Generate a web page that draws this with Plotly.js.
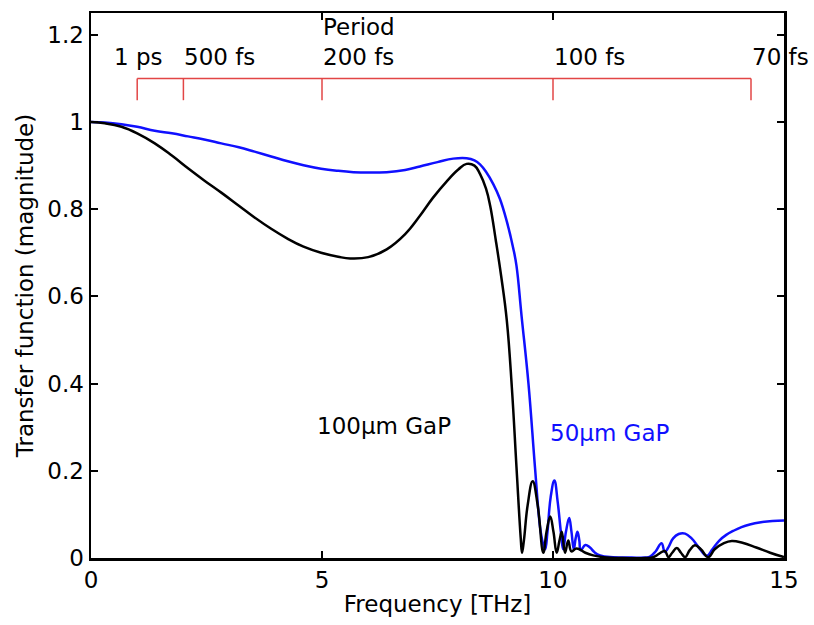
<!DOCTYPE html>
<html>
<head>
<meta charset="utf-8">
<script src="https://cdn.plot.ly/plotly-3.0.1.min.js"></script>
<style>html,body{margin:0;padding:0;background:#fff;}#chart{width:814px;height:625px;}</style>
</head>
<body>
<div id="chart"></div>
<script>
// 100 µm GaP (black)
const freq100 = [0,0.3,0.66,1.0,1.38,1.75,2.1,2.45,2.82,3.2,3.54,3.9,4.26,4.6,4.98,5.35,5.61,6.0,6.4,6.8,7.12,7.4,7.7,7.95,8.13,8.3,8.42,8.55,8.64,8.76,8.88,9.0,9.11,9.21,9.30,9.33,9.37,9.45,9.56,9.67,9.79,9.86,9.94,10.01,10.08,10.14,10.19,10.26,10.33,10.40,10.51,10.7,10.87,11.1,11.5,12.0,12.17,12.30,12.42,12.5,12.58,12.68,12.77,12.86,12.96,13.07,13.2,13.36,13.5,13.7,13.87,14.1,14.4,14.7,15.0];
const mag100 = [1.0,0.997,0.989,0.974,0.951,0.923,0.894,0.866,0.838,0.808,0.781,0.755,0.732,0.714,0.700,0.691,0.687,0.690,0.708,0.743,0.785,0.826,0.864,0.891,0.904,0.900,0.881,0.847,0.808,0.730,0.645,0.545,0.39,0.208,0.048,0.012,0.04,0.12,0.176,0.12,0.012,0.06,0.095,0.06,0.012,0.04,0.06,0.012,0.04,0.015,0.022,0.012,0.006,0.002,0,0,0.002,0.01,0.016,0.002,0.012,0.023,0.012,0.002,0.018,0.029,0.02,0.002,0.02,0.034,0.039,0.035,0.024,0.012,0.002];

// 50 µm GaP (blue)
const freq50 = [0,0.3,0.66,1.0,1.38,1.75,2.1,2.45,2.82,3.2,3.54,3.9,4.26,4.6,4.98,5.35,5.68,6.0,6.4,6.8,7.12,7.5,7.84,8.13,8.3,8.42,8.55,8.71,8.85,9.0,9.14,9.21,9.32,9.47,9.61,9.72,9.78,9.83,9.88,9.95,10.03,10.10,10.17,10.22,10.28,10.35,10.40,10.45,10.49,10.53,10.57,10.60,10.70,10.80,10.9,11.02,11.3,11.7,12.0,12.10,12.22,12.35,12.42,12.50,12.6,12.72,12.86,13.0,13.15,13.33,13.45,13.6,13.75,13.9,14.08,14.26,14.5,14.75,15.0];
const mag50 = [1.0,0.999,0.995,0.989,0.98,0.974,0.967,0.96,0.951,0.942,0.932,0.921,0.910,0.901,0.893,0.888,0.885,0.884,0.885,0.890,0.898,0.908,0.916,0.917,0.912,0.903,0.886,0.857,0.824,0.772,0.710,0.670,0.555,0.399,0.208,0.071,0.035,0.02,0.06,0.14,0.178,0.13,0.06,0.02,0.06,0.092,0.06,0.02,0.045,0.06,0.04,0.018,0.03,0.024,0.013,0.006,0.002,0.001,0.001,0.003,0.015,0.034,0.014,0.025,0.045,0.055,0.056,0.045,0.025,0.005,0.02,0.04,0.053,0.062,0.071,0.077,0.082,0.085,0.086];

// Period scale
const periodFs = [1000, 500, 200, 100, 70];
const periodLabels = ['1 ps', '500 fs', 'Period<br>200 fs', '100 fs', '70 fs'];

// axis ticks
const xTicks = [0, 5, 10, 15];
const yTicks = [0, 0.2, 0.4, 0.6, 0.8, 1, 1.2];
const yTickText = ['0', '0.2', '0.4', '0.6', '0.8', '1', '1.2'];

const FONT = 'DejaVu Sans, Liberation Sans, Arial, sans-serif';
const FS = 23;
const periodFreq = periodFs.map(p => 1000 / p);

const barY = 1.10, tickY = 1.05;
const bx = [periodFreq[0], periodFreq[periodFreq.length - 1], null];
const by = [barY, barY, null];
periodFreq.forEach(f => { bx.push(f, f, null); by.push(barY, tickY, null); });

const traces = [
  {x: bx, y: by, mode: 'lines', line: {color: 'rgb(226,70,70)', width: 1.5}, hoverinfo: 'skip', showlegend: false, cliponaxis: false},
  {x: freq50, y: mag50, mode: 'lines', line: {color: '#1010ff', width: 2.5, shape: 'spline', smoothing: 1.2}, showlegend: false},
  {x: freq100, y: mag100, mode: 'lines', line: {color: '#000000', width: 2.5, shape: 'spline', smoothing: 1.2}, showlegend: false}
];

const annotations = periodLabels.map((t, i) => ({
  x: i === 0 ? periodFreq[i] - 0.52 : periodFreq[i], y: 1.118, xref: 'x', yref: 'y',
  text: t, showarrow: false, xanchor: 'left', yanchor: 'bottom', align: 'left',
  font: {family: FONT, size: FS, color: '#000'}, borderpad: 0
}));
annotations.push({x: 4.85, y: 0.303, xref: 'x', yref: 'y', text: '100μm GaP', showarrow: false,
  xanchor: 'left', yanchor: 'middle', font: {family: FONT, size: FS, color: '#000'}});
annotations.push({x: 9.89, y: 0.287, xref: 'x', yref: 'y', text: '50μm GaP', showarrow: false,
  xanchor: 'left', yanchor: 'middle', font: {family: FONT, size: FS, color: '#1010ff'}});

const layout = {
  width: 814, height: 625,
  margin: {l: 91, r: 30, t: 13, b: 67},
  paper_bgcolor: '#fff', plot_bgcolor: '#fff',
  showlegend: false,
  hovermode: false,
  font: {family: FONT, size: FS, color: '#000'},
  xaxis: {
    range: [0, 15], tickvals: xTicks, ticktext: xTicks.map(String),
    ticks: 'inside', ticklen: 7, tickwidth: 2, tickcolor: '#000',
    showline: true, linewidth: 2.5, linecolor: '#000', mirror: 'ticks',
    showgrid: false, zeroline: false,
    tickfont: {family: FONT, size: FS, color: '#000'},
    title: {text: 'Frequency [THz]', font: {family: FONT, size: FS, color: '#000'}, standoff: 4}
  },
  yaxis: {
    range: [0, 1.25], tickvals: yTicks, ticktext: yTickText,
    ticks: 'inside', ticklen: 7, tickwidth: 2, tickcolor: '#000',
    showline: true, linewidth: 2.5, linecolor: '#000', mirror: 'ticks',
    showgrid: false, zeroline: false,
    tickfont: {family: FONT, size: FS, color: '#000'},
    title: {text: 'Transfer function (magnitude)', font: {family: FONT, size: FS, color: '#000'}, standoff: 8}
  },
  annotations: annotations
};

Plotly.newPlot('chart', traces, layout, {displayModeBar: false, staticPlot: true});
</script>
</body>
</html>
